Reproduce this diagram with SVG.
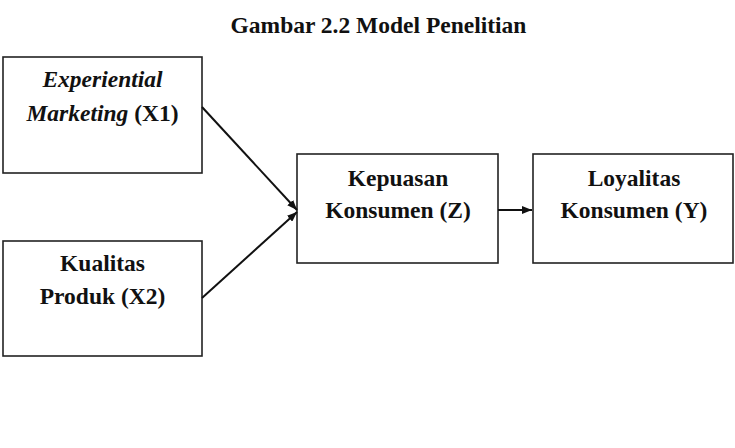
<svg xmlns="http://www.w3.org/2000/svg" width="735" height="448" viewBox="0 0 735 448">
<style>
.box{fill:#fff;stroke:#222;stroke-width:1.6}
.t{font-family:"Liberation Serif","Times New Roman",serif;font-weight:bold;font-size:23.5px;fill:#111;text-anchor:middle}
.title{font-size:23.5px}
.c{stroke:#111;stroke-width:2;fill:none}
</style>
<defs>
<marker id="ah" viewBox="0 0 10 8" refX="10" refY="4" markerWidth="5" markerHeight="4" orient="auto" markerUnits="strokeWidth">
<path d="M0,0 L10,4 L0,8 z" fill="#111"/>
</marker>
</defs>
<rect width="735" height="448" fill="#fff"/>
<text class="t title" x="378.5" y="33">Gambar 2.2 Model Penelitian</text>
<g id="x1">
<rect class="box" x="3" y="57" width="199" height="116"/>
<text class="t" x="102.5" y="86.5"><tspan font-style="italic">Experiential</tspan></text>
<text class="t" x="102.5" y="120.5"><tspan font-style="italic">Marketing</tspan> (X1)</text>
</g>
<g id="x2">
<rect class="box" x="3" y="241" width="199" height="115"/>
<text class="t" x="102.5" y="270.5">Kualitas</text>
<text class="t" x="102.5" y="304">Produk (X2)</text>
</g>
<g id="z">
<rect class="box" x="297" y="154" width="201" height="109"/>
<text class="t" x="398" y="186">Kepuasan</text>
<text class="t" x="398" y="218">Konsumen (Z)</text>
</g>
<g id="y">
<rect class="box" x="533" y="154" width="200" height="109"/>
<text class="t" x="634" y="186">Loyalitas</text>
<text class="t" x="634" y="218">Konsumen (Y)</text>
</g>
<g id="connectors">
<line class="c" x1="202" y1="107" x2="297" y2="210" marker-end="url(#ah)"/>
<line class="c" x1="202" y1="298" x2="297" y2="212" marker-end="url(#ah)"/>
<line class="c" x1="498" y1="210" x2="532" y2="210" marker-end="url(#ah)"/>
</g>
</svg>
